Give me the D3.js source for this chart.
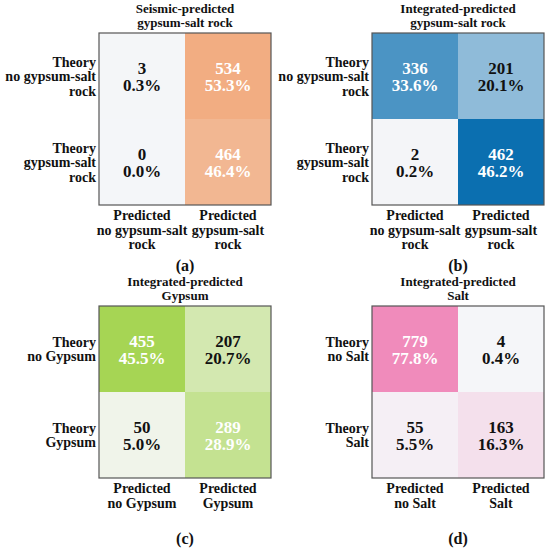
<!DOCTYPE html>
<html><head><meta charset="utf-8">
<script src="https://cdn.jsdelivr.net/npm/d3@7/dist/d3.min.js"></script>
<style>body{margin:0;background:#fff}svg{display:block}</style>
</head><body>
<svg id="c" width="550" height="551" font-family="Liberation Serif" font-weight="bold"></svg>
<script>
// ---- data ----
const titlesA = ["Seismic-predicted", "gypsum-salt rock"];
const titlesB = ["Integrated-predicted", "gypsum-salt rock"];
const titlesC = ["Integrated-predicted", "Gypsum"];
const titlesD = ["Integrated-predicted", "Salt"];
const rowsA = [["Theory","no gypsum-salt","rock"],["Theory","gypsum-salt","rock"]];
const colsA = [["Predicted","no gypsum-salt","rock"],["Predicted","gypsum-salt","rock"]];
const rowsC = [["Theory","no Gypsum"],["Theory","Gypsum"]];
const colsC = [["Predicted","no Gypsum"],["Predicted","Gypsum"]];
const rowsD = [["Theory","no Salt"],["Theory","Salt"]];
const colsD = [["Predicted","no Salt"],["Predicted","Salt"]];
const countsA = [[3,534],[0,464]];
const countsB = [[336,201],[2,462]];
const countsC = [[455,207],[50,289]];
const countsD = [[779,4],[55,163]];
const pctA = [["0.3%","53.3%"],["0.0%","46.4%"]];
const pctB = [["33.6%","20.1%"],["0.2%","46.2%"]];
const pctC = [["45.5%","20.7%"],["5.0%","28.9%"]];
const pctD = [["77.8%","0.4%"],["5.5%","16.3%"]];
const letters = ["(a)","(b)","(c)","(d)"];

// ---- styles / layout ----
const palettes = [["#f4f6f9","#f2ad82"],["#f4f5f8","#0b6fb0"],["#f0f4ea","#a6d554"],["#f5f6f9","#f08bbb"]];
const origins = [[99,33],[372,33],[99,306],[372,306]];
const size = 172;

const svg = d3.select("#c");
const panels = [
  {t:titlesA, r:rowsA, c:colsA, n:countsA, p:pctA},
  {t:titlesB, r:rowsA, c:colsA, n:countsB, p:pctB},
  {t:titlesC, r:rowsC, c:colsC, n:countsC, p:pctC},
  {t:titlesD, r:rowsD, c:colsD, n:countsD, p:pctD}
];

panels.forEach((pn, k) => {
  const [ox, oy] = origins[k];
  const g = svg.append("g").attr("transform", `translate(${ox},${oy})`);
  const x = d3.scaleBand().domain([0,1]).range([0,size]);
  const y = d3.scaleBand().domain([0,1]).range([0,size]);
  const flat = pn.n.flat();
  const ext = d3.extent(flat);
  const col = d3.scaleLinear().domain(ext).range(palettes[k]).interpolate(d3.interpolateRgb);
  const tn = d3.scaleLinear().domain(ext).range([0,1]);
  const cells = [];
  pn.n.forEach((row, i) => row.forEach((v, j) => cells.push({i, j, v, p: pn.p[i][j]})));
  g.selectAll("rect.cell").data(cells).join("rect")
    .attr("x", d => x(d.j)).attr("y", d => y(d.i))
    .attr("width", x.bandwidth()).attr("height", y.bandwidth())
    .attr("fill", d => col(d.v));
  const ct = g.selectAll("text.cell").data(cells).join("text")
    .attr("text-anchor", "middle").attr("font-size", 17)
    .attr("fill", d => tn(d.v) > 0.5 ? "#fff" : "#111");
  ct.append("tspan").attr("x", d => x(d.j) + x.bandwidth()/2)
    .attr("y", d => y(d.i) + y.bandwidth()/2 - 8.85 + 6.5).text(d => d.v);
  ct.append("tspan").attr("x", d => x(d.j) + x.bandwidth()/2)
    .attr("y", d => y(d.i) + y.bandwidth()/2 + 8.85 + 6.5).text(d => d.p);
  g.append("rect").attr("width", size).attr("height", size)
    .attr("fill", "none").attr("stroke", "#555").attr("stroke-width", 1.2);
  // title
  pn.t.forEach((s, i) => {
    g.append("text").attr("x", size/2).attr("y", -20 + i*13.5)
      .attr("text-anchor", "middle").attr("font-size", 13).attr("fill", "#111").text(s);
  });
  // row labels
  pn.r.forEach((lines, i) => {
    const cy = y(i) + y.bandwidth()/2;
    lines.forEach((s, m) => {
      g.append("text").attr("x", -3).attr("y", cy + (m - (lines.length-1)/2)*14.5 + 5)
        .attr("text-anchor", "end").attr("font-size", 14).attr("fill", "#111").text(s);
    });
  });
  // column labels
  pn.c.forEach((lines, j) => {
    const cx = x(j) + x.bandwidth()/2;
    lines.forEach((s, m) => {
      g.append("text").attr("x", cx).attr("y", size + 15 + m*14.5)
        .attr("text-anchor", "middle").attr("font-size", 14).attr("fill", "#111").text(s);
    });
  });
  g.append("text").attr("x", size/2).attr("y", size + 65.5)
    .attr("text-anchor", "middle").attr("font-size", 16).attr("fill", "#111").text(letters[k]);
});
</script>
</body></html>
